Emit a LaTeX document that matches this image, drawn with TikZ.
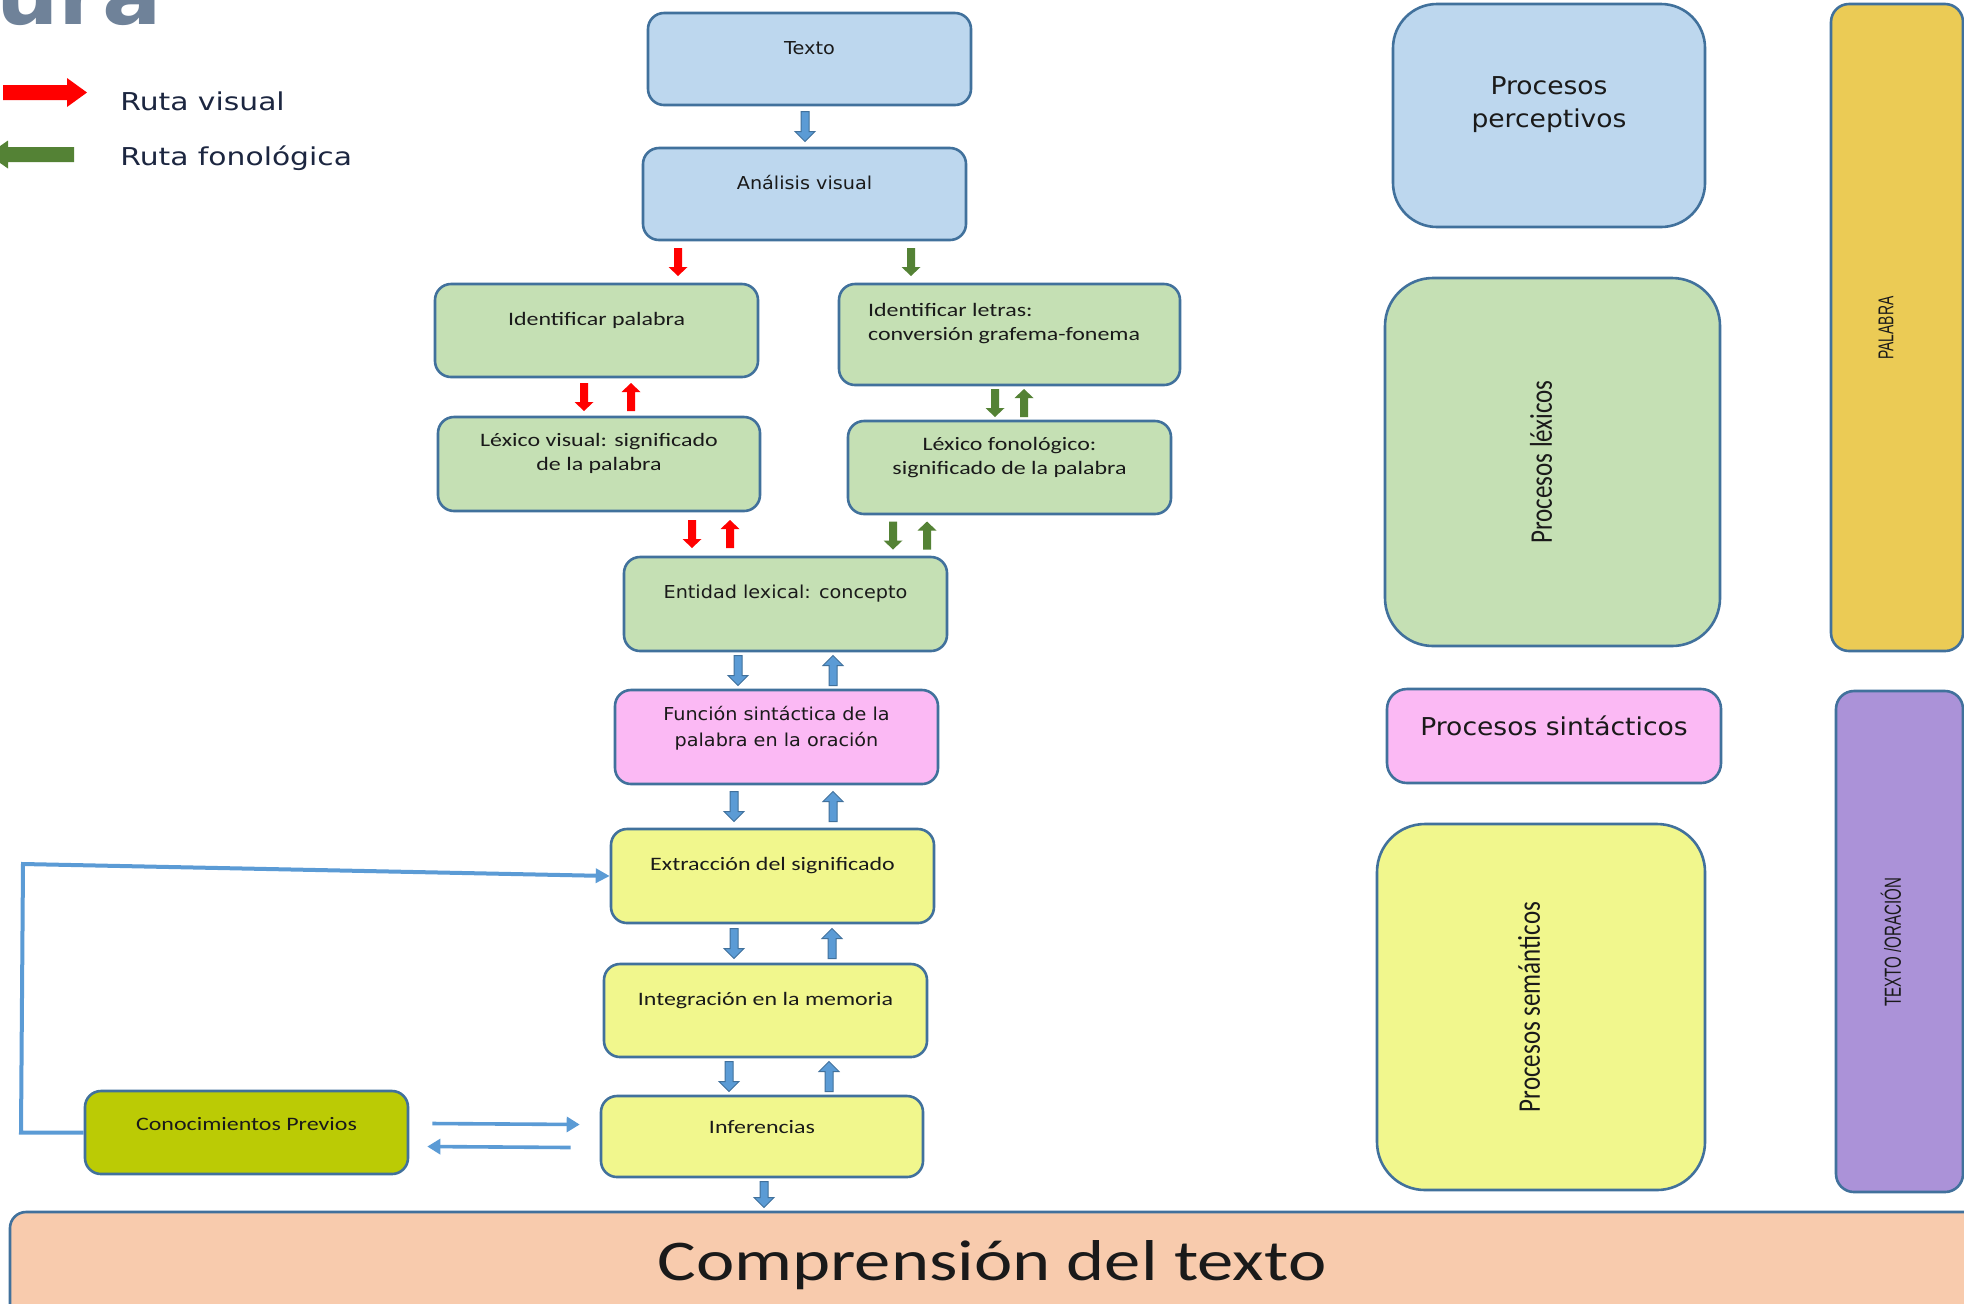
\documentclass[tikz,border=0pt]{standalone}
\usepackage{fontspec}
\setmainfont{Carlito}
\newfontfamily\calw[FakeStretch=1.26]{Carlito}
\newfontfamily\calr[FakeStretch=0.794]{Carlito}
\newfontfamily\tahw[FakeStretch=1.08]{DejaVu Sans}
\newfontfamily\narr[FakeStretch=0.65]{Liberation Sans}
\newfontfamily\legf[FakeStretch=1.21]{DejaVu Sans}
\newfontfamily\headf[FakeStretch=1.1]{DejaVu Sans}
\usetikzlibrary{calc,arrows.meta}

\definecolor{edge}{HTML}{41719C}
\definecolor{blueF}{HTML}{BDD7EE}
\definecolor{greenF}{HTML}{C5E0B4}
\definecolor{pinkF}{HTML}{FBB9F4}
\definecolor{yellowF}{HTML}{F1F78D}
\definecolor{oliveF}{HTML}{BBCB05}
\definecolor{peachF}{HTML}{F8CBAD}
\definecolor{goldF}{HTML}{EBCB55}
\definecolor{purpleF}{HTML}{AB92D8}
\definecolor{arrowblue}{HTML}{5B9BD5}
\definecolor{routered}{HTML}{FF0000}
\definecolor{routegreen}{HTML}{548235}
\definecolor{ink}{HTML}{1A1A1A}
\definecolor{legendink}{HTML}{1C2640}
\definecolor{slate}{HTML}{6F8299}

\tikzset{
  box/.style={draw=edge, line width=1.3pt, rounded corners=8pt, inner sep=0pt},
  bluebox/.style={box, fill=blueF},
  greenbox/.style={box, fill=greenF},
  pinkbox/.style={box, fill=pinkF},
  yellowbox/.style={box, fill=yellowF},
  olivebox/.style={box, fill=oliveF},
  lbl/.style={inner sep=0pt, text=ink, align=center, font={\calw\fontsize{9.5pt}{12pt}\selectfont}},
  tlbl/.style={inner sep=0pt, text=ink, align=center, font={\tahw\fontsize{8.9pt}{13pt}\selectfont}},
  biglbl/.style={inner sep=0pt, text=ink, align=center, font={\tahw\fontsize{12.3pt}{16.5pt}\selectfont}},
  rotlbl/.style={inner sep=0pt, text=ink, rotate=90, font={\calr\fontsize{15.75pt}{16pt}\selectfont}},
  narrlbl/.style={inner sep=0pt, text=ink, rotate=90},
  legend/.style={inner sep=0pt, text=legendink, anchor=base west, font={\legf\fontsize{12.3pt}{14pt}\selectfont}},
  blueba/.style={fill=arrowblue, draw=edge, line width=0.5pt},
  redba/.style={fill=routered},
  greenba/.style={fill=routegreen},
  fbline/.style={draw=arrowblue, line width=2pt, line join=miter},
}

% block arrow: style, from, to, half shaft width, half head width, head length
\newcommand\blockarrow[6]{%
  \coordinate (ba-a) at #2;
  \coordinate (ba-b) at #3;
  \coordinate (ba-h) at ($(ba-b)!#6!(ba-a)$);
  \path[#1] ($(ba-a)!#4!90:(ba-b)$) -- ($(ba-h)!#4!90:(ba-b)$)
    -- ($(ba-h)!#5!90:(ba-b)$) -- (ba-b) -- ($(ba-h)!#5!-90:(ba-b)$)
    -- ($(ba-h)!#4!-90:(ba-b)$) -- ($(ba-a)!#4!-90:(ba-b)$) -- cycle;}

% vertical block arrow at abscissa x, centred in the gap between two anchors
\newcommand\varrow[8]{%
  \coordinate (va-1) at (#2,0 |- #3);
  \coordinate (va-2) at (#2,0 |- #4);
  \coordinate (va-m) at ($(va-1)!0.5!(va-2)$);
  \blockarrow{#1}{($(va-m)!#5!(va-1)$)}{($(va-m)!#5!(va-2)$)}{#6}{#7}{#8}}
\newcommand\bluearrow[3]{\varrow{blueba}{#1}{#2}{#3}{7.5pt}{2pt}{5pt}{5pt}}
\newcommand\redarrow[3]{\varrow{redba}{#1}{#2}{#3}{7pt}{2pt}{4.75pt}{4.5pt}}
\newcommand\greenarrow[3]{\varrow{greenba}{#1}{#2}{#3}{7pt}{2pt}{4.75pt}{4.5pt}}

\begin{document}
\begin{tikzpicture}[x=0.5pt,y=-0.5pt]
\useasboundingbox (0,0) rectangle (1964,1303);
\fill[white] (0,0) rectangle (1964,1303);
\clip (0,0) rectangle (1964,1303);

% heading remnant
\node[anchor=base east, inner sep=0pt, text=slate, font={\headf\bfseries\fontsize{40pt}{40pt}\selectfont}] (heading) at (162,24) {ura};

% legend
\blockarrow{redba}{(3,92.5)}{(87,92.5)}{3.75pt}{7.25pt}{10pt}
\blockarrow{greenba}{(74,154.5)}{(-12,154.5)}{3.75pt}{7pt}{10pt}
\node[legend] (leg-vis) at (120,110) {Ruta visual};
\node[legend] (leg-fon) at (120,165) {Ruta fonológica};

% central flow
\node[bluebox, minimum width=161.5pt, minimum height=46pt] (texto) at (809.5,59) {};
\node[tlbl] (texto-l) at ($(texto.north)+(0,36)$) {Texto};
\node[bluebox, minimum width=161.5pt, minimum height=46pt] (analisis) at (804.5,194) {};
\node[tlbl] (analisis-l) at ($(analisis.north)+(0,36)$) {Análisis visual};

\node[greenbox, minimum width=161.5pt, minimum height=46.5pt] (idpal) at (596.5,330.5) {};
\node[lbl] (idpal-l) at ($(idpal.north)+(0,38)$) {Identificar palabra};
\node[greenbox, minimum width=170.5pt, minimum height=50.5pt] (idlet) at (1009.5,334.5) {};
\node[lbl, align=left, anchor=west] (idlet-l) at ($(idlet.north west)+(30,41)$) {Identificar letras:\\conversión grafema-fonema};

\node[greenbox, minimum width=161pt, minimum height=47pt] (lexvis) at (599,464) {};
\node[lbl] (lexvis-l) at ($(lexvis.north)+(0,38)$) {Léxico visual: significado\\de la palabra};
\node[greenbox, minimum width=161.5pt, minimum height=46.5pt] (lexfon) at (1009.5,467.5) {};
\node[lbl] (lexfon-l) at ($(lexfon.north)+(0,38)$) {Léxico fonológico:\\significado de la palabra};

\node[greenbox, minimum width=161.5pt, minimum height=47pt] (entidad) at (785.5,604) {};
\node[tlbl] (entidad-l) at ($(entidad.north)+(0,38)$) {Entidad lexical: concepto};

\node[pinkbox, minimum width=161.5pt, minimum height=47pt] (funcion) at (776.5,737) {};
\node[tlbl] (funcion-l) at ($(funcion.north)+(0,40)$) {Función sintáctica de la\\palabra en la oración};

\node[yellowbox, minimum width=161.5pt, minimum height=47pt] (extrac) at (772.5,876) {};
\node[lbl] (extrac-l) at ($(extrac.north)+(0,38)$) {Extracción del significado};
\node[yellowbox, minimum width=161.5pt, minimum height=46.5pt] (integ) at (765.5,1010.5) {};
\node[lbl] (integ-l) at ($(integ.north)+(0,38)$) {Integración en la memoria};
\node[yellowbox, minimum width=161pt, minimum height=40.5pt] (infer) at (762,1136.5) {};
\node[lbl] (infer-l) at ($(infer.north)+(0,32)$) {Inferencias};

\node[olivebox, minimum width=161.5pt, minimum height=41.5pt] (conoc) at (246.5,1132.5) {};
\node[lbl] (conoc-l) at ($(conoc.north)+(0,34)$) {Conocimientos Previos};

\node[box, fill=peachF, minimum width=987.5pt, minimum height=59pt] (compr) at (997.5,1271) {};
\node[inner sep=0pt, text=ink, anchor=base, font={\calw\fontsize{28.8pt}{30pt}\selectfont}] (compr-l) at (992,1280) {Comprensión del texto};

% process columns
\node[bluebox, rounded corners=22pt, minimum width=156pt, minimum height=111.5pt] (percep) at (1549,115.5) {};
\node[biglbl] (percep-l) at ($(percep.north)+(0,102)$) {Procesos\\perceptivos};
\node[greenbox, rounded corners=24pt, minimum width=167.5pt, minimum height=184pt] (lexic) at (1552.5,462) {};
\node[rotlbl] (lexic-l) at (1541,462) {Procesos léxicos};
\node[pinkbox, rounded corners=10pt, minimum width=167pt, minimum height=47pt] (sintac) at (1554,736) {};
\node[biglbl] (sintac-l) at ($(sintac.north)+(0,38)$) {Procesos sintácticos};
\node[yellowbox, rounded corners=24pt, minimum width=164pt, minimum height=183pt] (seman) at (1541,1007) {};
\node[rotlbl] (seman-l) at (1529,1007) {Procesos semánticos};

\node[box, fill=goldF, rounded corners=9pt, minimum width=66pt, minimum height=323.5pt] (palabra) at (1897,327.5) {};
\node[narrlbl, font={\narr\fontsize{10.7pt}{12pt}\selectfont}] (palabra-l) at (1886,328) {PALABRA};
\node[box, fill=purpleF, rounded corners=9pt, minimum width=63.5pt, minimum height=250.5pt] (textoor) at (1899.5,941.5) {};
\node[narrlbl, font={\narr\fontsize{11.6pt}{12pt}\selectfont}] (textoor-l) at (1891,942) {TEXTO /ORACIÓN};

% block arrows between stages
\bluearrow{805}{texto.south}{analisis.north}
\redarrow{678}{analisis.south}{idpal.north}
\greenarrow{911}{analisis.south}{idlet.north}
\redarrow{584}{idpal.south}{lexvis.north}
\redarrow{631}{lexvis.north}{idpal.south}
\greenarrow{995}{idlet.south}{lexfon.north}
\greenarrow{1024}{lexfon.north}{idlet.south}
\redarrow{692}{lexvis.south}{entidad.north}
\redarrow{730}{entidad.north}{lexvis.south}
\greenarrow{893}{lexfon.south}{entidad.north}
\greenarrow{927}{entidad.north}{lexfon.south}
\bluearrow{738}{entidad.south}{funcion.north}
\bluearrow{833}{funcion.north}{entidad.south}
\bluearrow{734}{funcion.south}{extrac.north}
\bluearrow{833}{extrac.north}{funcion.south}
\bluearrow{734}{extrac.south}{integ.north}
\bluearrow{832}{integ.north}{extrac.south}
\bluearrow{729}{integ.south}{infer.north}
\bluearrow{829}{infer.north}{integ.south}
\varrow{blueba}{764}{infer.south}{compr.north}{6.5pt}{2pt}{5pt}{5pt}

% prior knowledge loop
\coordinate (fb-x) at (21,0);
\coordinate (fb-top) at (23,864);
\draw[fbline, -{Triangle[length=7pt,width=7pt]}] (conoc.west) -- (conoc.west -| fb-x) -- (fb-top) -- (extrac.west);
\draw[fbline, line width=1.8pt, -{Triangle[length=6.5pt,width=7.5pt]}] ([shift={(23,-9)}]conoc.east) -- ([shift={(-20,-12)}]infer.west);
\draw[fbline, line width=1.8pt, -{Triangle[length=6.5pt,width=7.5pt]}] ([shift={(-29,11)}]infer.west) -- ([shift={(18,14)}]conoc.east);
\end{tikzpicture}
\end{document}
